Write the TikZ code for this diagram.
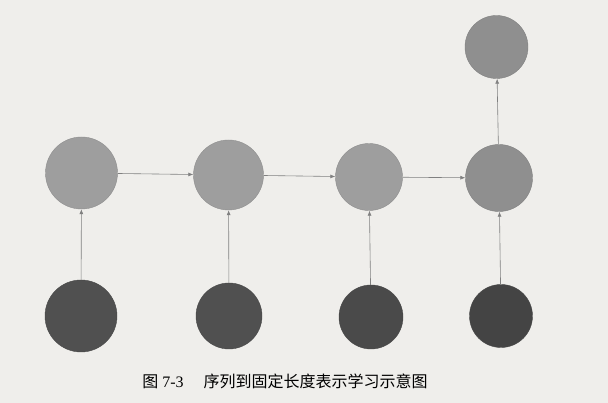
\documentclass[tikz,border=0pt]{standalone}
\usepackage{fontspec}
\setmainfont{Liberation Serif}
\newfontfamily\cjk{Noto Sans CJK SC}
\usetikzlibrary{positioning, arrows.meta}
\definecolor{paper}{HTML}{EFEEEB}
\definecolor{hidcol}{HTML}{9E9E9E}
\definecolor{lastcol}{HTML}{8F8F8F}
\definecolor{incol}{HTML}{505050}
\definecolor{linkcol}{HTML}{808080}

\begin{document}
\begin{tikzpicture}[x=1pt, y=1pt]
\tikzset{
    hidden/.style={
        circle,
        fill=hidcol,
        draw=hidcol!90!black,
        inner sep=0pt,
    },
    last/.style={
        hidden,
        fill=lastcol,
        draw=lastcol!90!black,
    },
    input/.style={
        circle,
        fill=incol,
        draw=incol!90!black,
        inner sep=0pt,
    },
    link/.style={
        draw=linkcol,
        line width=.6pt,
        -{Latex[length=5pt, width=4pt]},
    },
}

    \fill[paper] (0,0) rectangle (608,403);
    \useasboundingbox (0,0) rectangle (608,403);

    % hidden states
    \node[hidden, minimum size=72pt] (h1) at (81.5,230) {};
    \node[hidden, minimum size=70pt] (h2) at (228.5,228) {};
    \node[hidden, minimum size=67pt] (h3) at (369,226) {};
    \node[last, minimum size=67pt] (h4) at (499,225) {};

    % fixed-length output
    \node[last, minimum size=63pt] (out) at (496.5,356) {};

    % inputs
    \node[input, minimum size=72pt] (x1) at (81,87) {};
    \node[input, minimum size=66pt] (x2) at (229,87) {};
    \node[input, minimum size=64pt, fill=incol!92!black] (x3) at (371,86) {};
    \node[input, minimum size=63pt, fill=incol!85!black] (x4) at (501,87) {};

    % arrows
    \draw[link] (h1) -- (h2);
    \draw[link] (h2) -- (h3);
    \draw[link] (h3) -- (h4);
    \draw[link] (h4) -- (out);
    \foreach \i in {1,...,4}
        \draw[link] (x\i) -- (h\i);

    % caption
    \node (caption) at (285,22) {\fontsize{16}{16}\selectfont{\cjk 图}~7-3\quad\ {\cjk 序列到固定长度表示学习示意图}};

\end{tikzpicture}
\end{document}
